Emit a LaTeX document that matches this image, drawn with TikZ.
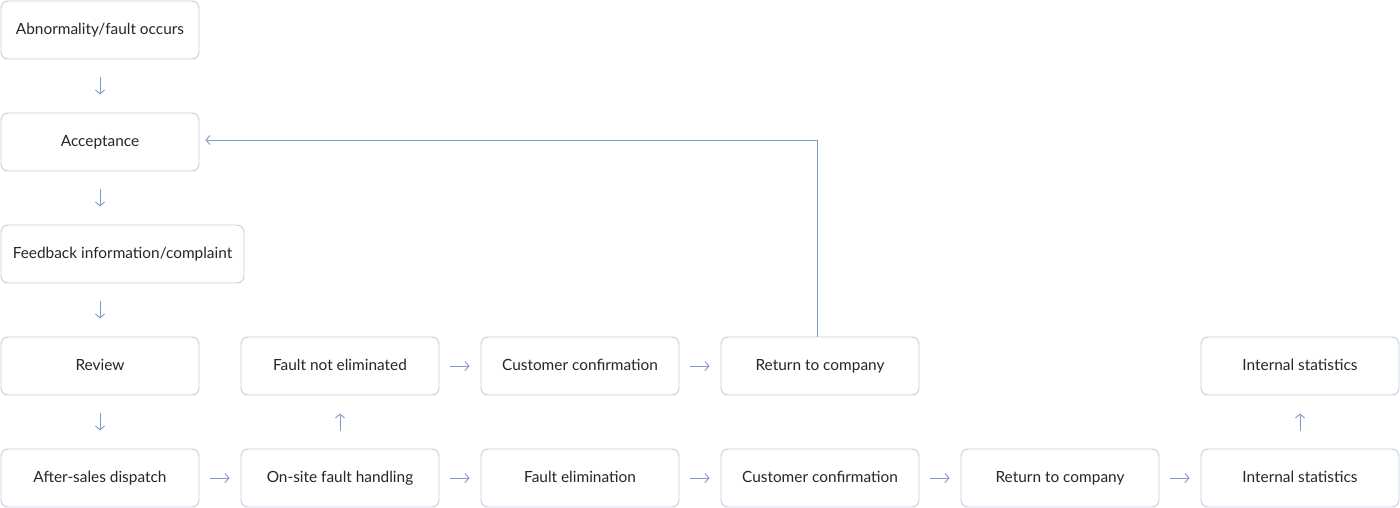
\documentclass[tikz,border=0pt]{standalone}
\usepackage{fontspec}
\setmainfont{Lato}
\usetikzlibrary{arrows.meta}
\definecolor{boxline}{HTML}{C4CDDB}
\definecolor{arr}{HTML}{7F98D2}
\definecolor{txt}{HTML}{262626}
\tikzset{
  box/.style={draw=boxline, line width=0.9pt, rounded corners=7pt, fill=white,
    minimum width=198pt, minimum height=58pt, inner sep=0pt, text height=12pt, text depth=3.5pt,
    font=\fontsize{15.4}{18}\selectfont, text=txt},
  conn/.style={draw=arr, line width=0.9pt, -{Straight Barb[length=4pt,width=9pt]}},
  vconn/.style={conn, shorten <=18pt, shorten >=18pt},
  hconn/.style={conn, shorten <=11pt, shorten >=11pt}
}
\begin{document}
\begin{tikzpicture}[x=1pt,y=-1pt]
\useasboundingbox (0,0) rectangle (1400,508);
\node[box] (abn) at (100,30) {Abnormality/fault occurs};
\node[box] (acc) at (100,142) {Acceptance};
\node[box, minimum width=243pt] (fb) at (122.5,254) {Feedback information/complaint};
\node[box] (rev) at (100,366) {Review};
\node[box] (asd) at (100,478) {After-sales dispatch};
\node[box] (fne) at (340,366) {Fault not eliminated};
\node[box] (cc1) at (580,366) {Customer confirmation};
\node[box] (ret1) at (820,366) {Return to company};
\node[box] (is1) at (1300,366) {Internal statistics};
\node[box] (ons) at (340,478) {On-site fault handling};
\node[box] (fel) at (580,478) {Fault elimination};
\node[box] (cc2) at (820,478) {Customer confirmation};
\node[box] (ret2) at (1060,478) {Return to company};
\node[box] (is2) at (1300,478) {Internal statistics};
\draw[vconn] (abn) -- (acc);
\draw[vconn] (acc) -- (acc|-fb.north);
\draw[vconn] (acc|-fb.south) -- (rev);
\draw[vconn] (rev) -- (asd);
\draw[vconn] (ons) -- (fne);
\draw[vconn] (is2) -- (is1);
\draw[hconn] (asd) -- (ons);
\draw[hconn] (ons) -- (fel);
\draw[hconn] (fel) -- (cc2);
\draw[hconn] (cc2) -- (ret2);
\draw[hconn] (ret2) -- (is2);
\draw[hconn] (fne) -- (cc1);
\draw[hconn] (cc1) -- (ret1);
\draw[conn, shorten >=6pt] ([xshift=-3pt]ret1.north) |- ([yshift=2pt]acc.east);
\end{tikzpicture}
\end{document}
